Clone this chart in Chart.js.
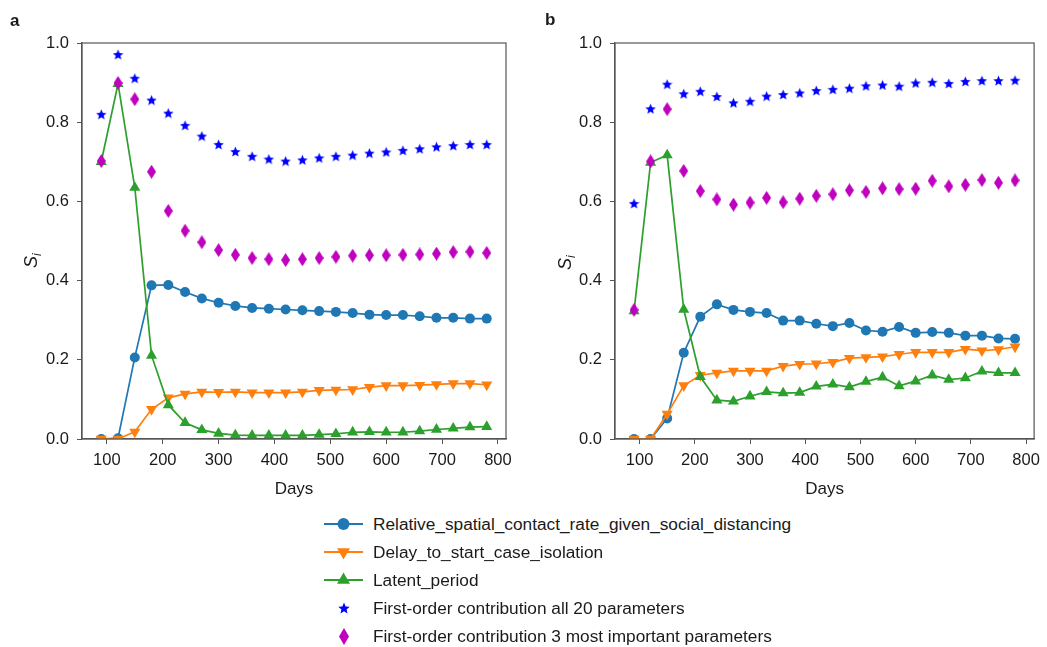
<!DOCTYPE html>
<html><head><meta charset="utf-8">
<script src="https://cdn.jsdelivr.net/npm/chart.js@4.4.0/dist/chart.umd.min.js"></script>
<style>
html,body{margin:0;padding:0;background:#fff;}
#wrap{position:relative;width:1047px;height:647px;overflow:hidden;font-family:"Liberation Sans",Arial,sans-serif;color:#1a1a1a;}
.cv{position:absolute;top:0;}
.lab{position:absolute;font-weight:bold;font-size:17px;line-height:17px;}
.row{position:absolute;left:322px;height:24px;display:flex;align-items:center;font-size:17.25px;white-space:nowrap;}
.row canvas{margin-right:9px;}
</style></head><body>
<div id="wrap">
<canvas id="ca" class="cv" width="530" height="500" style="left:0"></canvas>
<canvas id="cb" class="cv" width="517" height="500" style="left:530px"></canvas>
<div class="lab" style="left:10px;top:12px">a</div>
<div class="lab" style="left:545px;top:11px">b</div>
<div id="legend"></div>
</div>
<script>
const days = [90,120,150,180,210,240,270,300,330,360,390,420,450,480,510,540,570,600,630,660,690,720,750,780];
const xTicks = [100,200,300,400,500,600,700,800];
const yTicks = [0,0.2,0.4,0.6,0.8,1.0];
const seriesNames = ["Relative_spatial_contact_rate_given_social_distancing","Delay_to_start_case_isolation","Latent_period","First-order contribution all 20 parameters","First-order contribution 3 most important parameters"];

// Panel a
const aContact = [0.0,0.002,0.206,0.388,0.389,0.371,0.355,0.344,0.336,0.331,0.329,0.327,0.325,0.323,0.321,0.318,0.314,0.313,0.313,0.310,0.306,0.306,0.304,0.304];
const aDelay   = [0.0,0.0,0.018,0.075,0.104,0.114,0.119,0.118,0.119,0.117,0.117,0.117,0.119,0.123,0.124,0.125,0.131,0.135,0.135,0.136,0.138,0.140,0.140,0.137];
const aLatent  = [0.700,0.897,0.635,0.211,0.086,0.041,0.023,0.014,0.010,0.009,0.009,0.009,0.009,0.011,0.013,0.017,0.018,0.017,0.017,0.020,0.024,0.027,0.030,0.031];
const aAll20   = [0.820,0.971,0.911,0.856,0.823,0.792,0.765,0.744,0.726,0.714,0.707,0.702,0.705,0.710,0.714,0.717,0.722,0.725,0.729,0.733,0.738,0.741,0.744,0.744];
const aTop3    = [0.702,0.899,0.858,0.675,0.576,0.526,0.497,0.477,0.465,0.457,0.454,0.452,0.454,0.457,0.460,0.463,0.464,0.464,0.465,0.466,0.468,0.472,0.473,0.470];

// Panel b
const bContact = [0.0,0.0,0.052,0.218,0.309,0.340,0.326,0.321,0.318,0.299,0.299,0.291,0.285,0.293,0.274,0.271,0.283,0.268,0.270,0.268,0.261,0.261,0.254,0.253];
const bDelay   = [0.0,0.0,0.063,0.135,0.161,0.167,0.172,0.172,0.172,0.184,0.189,0.190,0.194,0.204,0.206,0.208,0.214,0.219,0.219,0.219,0.227,0.223,0.226,0.233];
const bLatent  = [0.323,0.698,0.717,0.327,0.157,0.098,0.095,0.108,0.119,0.116,0.117,0.133,0.138,0.131,0.145,0.156,0.134,0.146,0.161,0.150,0.154,0.171,0.167,0.167];
const bAll20   = [0.595,0.834,0.896,0.872,0.878,0.865,0.849,0.853,0.866,0.870,0.874,0.880,0.883,0.886,0.892,0.894,0.891,0.899,0.901,0.898,0.903,0.905,0.905,0.906];
const bTop3    = [0.326,0.701,0.833,0.677,0.626,0.605,0.592,0.597,0.609,0.598,0.607,0.614,0.618,0.628,0.624,0.633,0.631,0.632,0.652,0.638,0.642,0.654,0.647,0.653];

const C_BLUE='#1f77b4', C_ORANGE='#ff7f0e', C_GREEN='#2ca02c', C_STAR='#0000ff', C_MAG='#bf00bf';
const FONT='"Liberation Sans", Arial, sans-serif';
const TXT='#1a1a1a', AX='#555555';

function starCanvas(size,color){
  const c=document.createElement('canvas'); c.width=size; c.height=size;
  const g=c.getContext('2d'); g.fillStyle=color; g.beginPath();
  const cx=size/2, cy=size/2+0.6, R=size/2, r=R*0.45;
  for(let k=0;k<10;k++){const a=-Math.PI/2+k*Math.PI/5; const rr=k%2?r:R; g.lineTo(cx+rr*Math.cos(a),cy+rr*Math.sin(a));}
  g.closePath(); g.fill(); return c;
}
function diamondCanvas(w,h,color){
  const c=document.createElement('canvas'); c.width=w; c.height=h;
  const g=c.getContext('2d'); g.fillStyle=color; g.beginPath();
  g.moveTo(w/2,0); g.lineTo(w,h/2); g.lineTo(w/2,h); g.lineTo(0,h/2); g.closePath(); g.fill(); return c;
}
const STAR=starCanvas(11,C_STAR);
const DIAM=diamondCanvas(9,14,C_MAG);
const STAR_L=starCanvas(12,C_STAR);
const DIAM_L=diamondCanvas(10,17,C_MAG);

function pts(vals){return days.map((d,i)=>({x:d,y:vals[i]}));}

function datasets(contact,delay,latent,all20,top3){
  return [
    {label:seriesNames[0],data:pts(contact),borderColor:C_BLUE,backgroundColor:C_BLUE,borderWidth:1.7,pointStyle:'circle',pointRadius:5,pointBorderWidth:0,pointBackgroundColor:C_BLUE,order:5,tension:0},
    {label:seriesNames[1],data:pts(delay),borderColor:C_ORANGE,backgroundColor:C_ORANGE,borderWidth:1.7,pointStyle:'triangle',pointRotation:180,pointRadius:6.4,pointBorderWidth:0,pointBackgroundColor:C_ORANGE,order:4,tension:0},
    {label:seriesNames[2],data:pts(latent),borderColor:C_GREEN,backgroundColor:C_GREEN,borderWidth:1.7,pointStyle:'triangle',pointRadius:6.4,pointBorderWidth:0,pointBackgroundColor:C_GREEN,order:3,tension:0},
    {label:seriesNames[3],data:pts(all20),showLine:false,pointStyle:STAR,pointRadius:5.5,order:2},
    {label:seriesNames[4],data:pts(top3),showLine:false,pointStyle:DIAM,pointRadius:7,order:1}
  ];
}

const framePlugin={id:'frame',afterDraw(chart){const {ctx,chartArea:a}=chart;ctx.save();ctx.strokeStyle=AX;ctx.lineWidth=1.2;ctx.strokeRect(a.left,a.top,a.right-a.left,a.bottom-a.top);ctx.restore();}};
const yTitlePlugin={id:'ytitle',afterDraw(chart,args,o){const ctx=chart.ctx;ctx.save();ctx.translate(o.x,o.y);ctx.rotate(-Math.PI/2);ctx.fillStyle=TXT;ctx.textBaseline='alphabetic';ctx.textAlign='left';ctx.font='italic 18px '+FONT;const w=ctx.measureText('S').width;ctx.fillText('S',-w/2-2,0);ctx.font='italic 12px '+FONT;ctx.fillText('i',w/2-2,4);ctx.restore();}};

function makeChart(id,ds,yw,padRight,tx,ty){
  return new Chart(document.getElementById(id),{
    type:'line',
    data:{datasets:ds},
    plugins:[framePlugin,yTitlePlugin],
    options:{
      responsive:false,animation:false,
      layout:{padding:{top:43,right:padRight,left:0,bottom:0}},
      plugins:{legend:{display:false},tooltip:{enabled:false},ytitle:{x:tx,y:ty}},
      scales:{
        x:{type:'linear',min:55.5,max:814.5,
          afterBuildTicks:s=>{s.ticks=xTicks.map(v=>({value:v}));},
          afterFit:s=>{s.height=61;},
          grid:{drawOnChartArea:false,drawTicks:true,tickLength:5,color:AX,tickColor:AX,tickWidth:1},
          border:{display:true,color:AX,width:1.2},
          ticks:{font:{family:FONT,size:16.5},color:TXT,padding:7,maxRotation:0,autoSkip:false},
          title:{display:true,text:'Days',font:{family:FONT,size:17},color:TXT,padding:{top:0,bottom:0}}},
        y:{min:0,max:1,
          afterBuildTicks:s=>{s.ticks=yTicks.map(v=>({value:v}));},
          afterFit:s=>{s.width=yw;},
          grid:{drawOnChartArea:false,drawTicks:true,tickLength:5,color:AX,tickColor:AX,tickWidth:1},
          border:{display:true,color:AX,width:1.2},
          ticks:{font:{family:FONT,size:16.5},color:TXT,padding:8,callback:v=>Number(v).toFixed(1)}}
      }
    }
  });
}
makeChart('ca',datasets(aContact,aDelay,aLatent,aAll20,aTop3),82,24,37,260);
makeChart('cb',datasets(bContact,bDelay,bLatent,bAll20,bTop3),85,6,41,262);

// legend (HTML)
const legendRows=[
  {kind:'line',color:C_BLUE,marker:'circle'},
  {kind:'line',color:C_ORANGE,marker:'down'},
  {kind:'line',color:C_GREEN,marker:'up'},
  {kind:'img',img:STAR_L},
  {kind:'img',img:DIAM_L}
];
const legendY=[524,552,580,608,636];
const lg=document.getElementById('legend');
legendRows.forEach((r,i)=>{
  const row=document.createElement('div');row.className='row';row.style.top=(legendY[i]-12)+'px';
  const c=document.createElement('canvas');c.width=42;c.height=24;const g=c.getContext('2d');
  const cx=21.5, cy=12;
  if(r.kind==='line'){
    g.strokeStyle=r.color;g.lineWidth=2;g.beginPath();g.moveTo(2,cy);g.lineTo(41,cy);g.stroke();
    g.fillStyle=r.color;g.beginPath();
    if(r.marker==='circle'){g.arc(cx,cy,6,0,Math.PI*2);}
    else if(r.marker==='down'){const R=7.5;g.moveTo(cx,cy+R);g.lineTo(cx-R*0.866,cy-R*0.5);g.lineTo(cx+R*0.866,cy-R*0.5);g.closePath();}
    else {const R=7.5;g.moveTo(cx,cy-R);g.lineTo(cx-R*0.866,cy+R*0.5);g.lineTo(cx+R*0.866,cy+R*0.5);g.closePath();}
    g.fill();
  } else {
    g.drawImage(r.img,Math.round(cx-r.img.width/2),Math.round(cy-r.img.height/2));
  }
  row.appendChild(c);
  const t=document.createElement('span');t.textContent=seriesNames[i];row.appendChild(t);
  lg.appendChild(row);
});
</script>
</body></html>
